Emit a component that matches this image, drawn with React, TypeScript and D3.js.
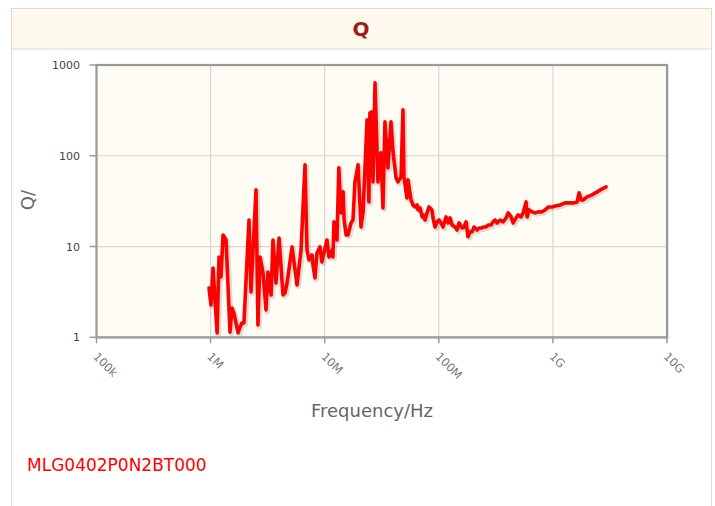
import React from "react";
import * as d3 from "d3";

// Frequency in MHz
const freqMHz = [
  0.968, 1.008, 1.05, 1.14, 1.185, 1.233, 1.285, 1.365, 1.479, 1.54, 1.6, 1.74, 1.81, 1.88, 1.96,
  2.17, 2.26, 2.5, 2.55, 2.6, 2.71, 2.88, 3.06, 3.18, 3.39, 3.52, 3.74, 3.98, 4.31, 4.49, 4.68,
  5.17, 5.72, 6.2, 6.72, 7.0, 7.28, 7.74, 7.89, 8.22, 8.55, 9.08, 9.46, 9.66, 10.47, 10.9, 11.6,
  11.8, 12.05, 12.8, 13.3, 13.9, 14.5, 14.8, 15.4, 16.0, 17.0, 17.7, 18.4, 19.6, 20.8, 21.7, 23.5,
  24.4, 24.9, 26.0, 26.5, 27.6, 28.7, 29.3, 31.1, 32.4, 33.7, 35.8, 38.1, 39.7, 42.2, 43.9, 46.7,
  48.5, 49.5, 52.6, 53.7, 57.1, 59.4, 61.9, 64.4, 65.8, 68.5, 71.3, 72.8, 75.7, 78.9, 82.0, 87.1,
  88.9, 92.7, 96.4, 100.4, 106.7, 108.9, 115.6, 120.5, 125.3, 130.6, 138.7, 144.5, 150.3, 160,
  166.3, 173.4, 180.3, 187.9, 195.5, 203.7, 216.3, 225.4, 239.3, 244.3, 259.4, 270.4, 287.1,
  299.2, 311.2, 324.3, 344.4, 365.6, 389, 404.6, 429.5, 447.7, 475.3, 495.5, 526, 548.3, 582.1,
  594.3, 618, 656.1, 698.2, 741.3, 803.5, 853.1, 907.8, 984, 1045, 1156, 1279, 1415, 1535, 1630,
  1695, 1766, 1837, 1991, 2203, 2438, 2698, 2924,
];

const qValues = [
  3.5, 2.27, 5.81, 1.12, 7.68, 4.62, 13.4, 11.8, 1.14, 2.1, 1.85, 1.12, 1.3, 1.44, 1.44,
  19.6, 3.16, 42.1, 7.49, 1.37, 7.68, 5.12, 2.0, 5.25, 2.93, 11.8, 3.97, 12.4, 2.93, 3.08, 3.97,
  9.9, 3.77, 9.17, 79.4, 9.17, 7.12, 8.08, 6.27, 4.51, 8.5, 9.9, 6.76, 7.68, 11.8, 7.68, 9.17,
  7.68, 18.7, 11.8, 73.6, 23.5, 40.0, 19.6, 13.4, 13.4, 18.2, 19.6, 51.5, 79.4, 16.4, 24.1, 249,
  31.0, 297, 305, 51.5, 637, 122, 51.5, 108, 26.6, 236, 73.6, 236, 110, 57.0, 51.5, 58.5,
  321, 58.5, 34.3, 54.2, 32.6, 28.7, 27.3, 28.7, 25.3, 26.6, 21.2, 22.3, 19.6, 23.5, 27.3, 25.3,
  20.7, 16.4, 18.7, 19.6, 17.3, 16.4, 21.2, 18.2, 20.7, 17.3, 16.4, 15.2, 18.2, 16.0,
  16.4, 18.7, 12.8, 14.5, 14.5, 16.4, 15.2, 16.0, 16.0, 16.4, 16.4, 17.3, 17.3,
  18.7, 19.6, 18.2, 19.6, 18.7, 20.7, 23.5, 21.2, 18.2, 20.7, 22.3, 21.2, 23.5, 31.0,
  21.2, 25.3, 24.1, 23.5, 24.1, 24.1, 25.3, 27.3, 27.3, 28.0, 28.7, 30.3, 30.3, 30.3, 31.0,
  39.0, 32.6, 32.6, 35.2, 37.1, 40.0, 43.2, 45.4,
];

const xTickValues = [1e5, 1e6, 1e7, 1e8, 1e9, 1e10];
const xTickLabels = ["100k", "1M", "10M", "100M", "1G", "10G"];
const yTickValues = [1, 10, 100, 1000];
const yTickLabels = ["1", "10", "100", "1000"];

const titleText = "Q";
const xAxisTitle = "Frequency/Hz";
const yAxisTitle = "Q/";
const seriesName = "MLG0402P0N2BT000";

const FONT = "'DejaVu Sans', Verdana, sans-serif";

export default function App() {
  const W = 715;
  const H = 506;
  const left = 96.5;
  const right = 667;
  const top = 65;
  const bottom = 337.3;

  const x = d3.scaleLog().domain([1e5, 1e10]).range([left, right]);
  const y = d3.scaleLog().domain([1, 1000]).range([bottom, top]);

  const pts: [number, number][] = freqMHz.map((f, i) => [f * 1e6, qValues[i]]);
  const line = d3
    .line<[number, number]>()
    .x((d) => x(d[0]))
    .y((d) => y(d[1]));
  const path = line(pts) || "";

  return (
    <div style={{ position: "absolute", left: 0, top: 0 }}>
      <svg width={W} height={H} style={{ display: "block", fontFamily: FONT }}>
        <rect x={0} y={0} width={W} height={H} fill="#ffffff" />
        {/* panel */}
        <line x1={11.5} y1={49} x2={11.5} y2={H} stroke="#dddddd" strokeWidth={1} />
        <line x1={711.5} y1={49} x2={711.5} y2={H} stroke="#dddddd" strokeWidth={1} />
        <rect x={11.5} y={8.5} width={700} height={40.5} fill="#fffaed" stroke="#d9d9d9" strokeWidth={1} />
        <text x={361} y={36} textAnchor="middle" fontSize={20} fontWeight="bold" fill="#a01c1c">
          {titleText}
        </text>

        {/* plot shadow */}
        <rect x={left + 2} y={top + 2} width={right - left} height={bottom - top} fill="#000" opacity={0.08} />
        <rect x={left + 1} y={top + 1} width={right - left} height={bottom - top} fill="#000" opacity={0.08} />
        <rect x={left} y={top} width={right - left} height={bottom - top} fill="#fffcf3" />

        {/* grid */}
        {xTickValues.slice(1, -1).map((v) => (
          <line key={"gx" + v} x1={x(v)} x2={x(v)} y1={top} y2={bottom} stroke="#d6d6d6" strokeWidth={1.2} />
        ))}
        {yTickValues.slice(1, -1).map((v) => (
          <line key={"gy" + v} x1={left} x2={right} y1={y(v)} y2={y(v)} stroke="#d6d6d6" strokeWidth={1.2} />
        ))}

        {/* series with shadow */}
        <path d={path} transform="translate(1.5,1.5)" fill="none" stroke="#000" strokeOpacity={0.13} strokeWidth={5} strokeLinejoin="round" />
        <path d={path} fill="none" stroke="#ff0000" strokeWidth={3.6} strokeLinejoin="round" strokeLinecap="round" />

        {/* plot border */}
        <rect x={left} y={top} width={right - left} height={bottom - top} fill="none" stroke="#9a9a9a" strokeWidth={2.2} />

        {/* y ticks */}
        {yTickValues.map((v, i) => (
          <g key={"yt" + v}>
            <line x1={left - 7} x2={left} y1={y(v)} y2={y(v)} stroke="#9a9a9a" strokeWidth={1.5} />
            <text x={80} y={y(v) + 4} textAnchor="end" fontSize={11} fill="#444">
              {yTickLabels[i]}
            </text>
          </g>
        ))}

        {/* x ticks */}
        {xTickValues.map((v, i) => (
          <g key={"xt" + v}>
            <line x1={x(v)} x2={x(v)} y1={bottom} y2={bottom + 6} stroke="#9a9a9a" strokeWidth={1.5} />
            <text
              x={x(v) - 4}
              y={bottom + 20}
              transform={`rotate(45, ${x(v) - 4}, ${bottom + 20})`}
              textAnchor="start"
              fontSize={11.5}
              fill="#777"
            >
              {xTickLabels[i]}
            </text>
          </g>
        ))}

        {/* axis titles */}
        <text x={372} y={417} textAnchor="middle" fontSize={18} fill="#666">
          {xAxisTitle}
        </text>
        <text x={34} y={200} transform="rotate(-90, 34, 200)" textAnchor="middle" fontSize={18} fill="#666">
          {yAxisTitle}
        </text>

        {/* legend */}
        <text x={27} y={471} fontSize={17} fill="#ff0000">
          {seriesName}
        </text>
      </svg>
    </div>
  );
}
